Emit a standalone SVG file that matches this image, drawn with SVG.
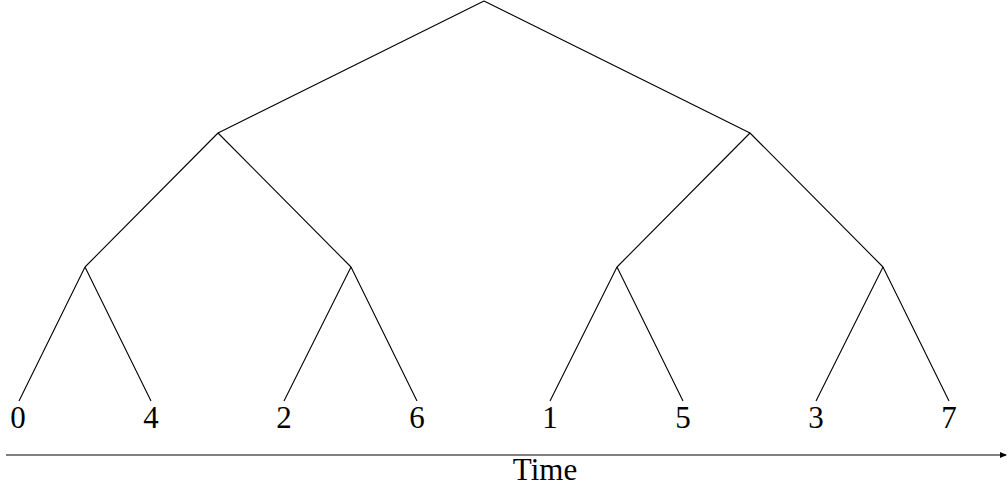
<svg xmlns="http://www.w3.org/2000/svg" width="1008" height="486" viewBox="0 0 1008 486">
<style>
.e{stroke:#000;stroke-width:1.1;fill:none}
.t{font-family:"Liberation Serif","DejaVu Serif",serif;font-size:31px;fill:#000;text-anchor:middle}
</style>
<defs>
<marker id="ah" markerWidth="7" markerHeight="7" refX="6" refY="3.5" orient="auto" markerUnits="userSpaceOnUse">
<path d="M0,0.5 L7,3.5 L0,6.5 Z" fill="#000"/>
</marker>
</defs>
<rect width="1008" height="486" fill="#fff"/>
<g id="connectors">
<path class="e" d="M484,1 L218,133 M484,1 L750,133"/>
<path class="e" d="M218,133 L85,267 M218,133 L351,267 M750,133 L617,267 M750,133 L883,267"/>
<path class="e" d="M85,267 L19,401 M85,267 L151,401 M351,267 L284,401 M351,267 L417,401 M617,267 L550,401 M617,267 L683,401 M883,267 L816,401 M883,267 L949,401"/>
<line id="axis" class="e" x1="6" y1="455" x2="1006" y2="455" marker-end="url(#ah)"/>
</g>
<g id="leaf0"><text class="t" x="18" y="428">0</text></g>
<g id="leaf4"><text class="t" x="151" y="428">4</text></g>
<g id="leaf2"><text class="t" x="284" y="428">2</text></g>
<g id="leaf6"><text class="t" x="417" y="428">6</text></g>
<g id="leaf1"><text class="t" x="550" y="428">1</text></g>
<g id="leaf5"><text class="t" x="683" y="428">5</text></g>
<g id="leaf3"><text class="t" x="816" y="428">3</text></g>
<g id="leaf7"><text class="t" x="949" y="428">7</text></g>
<g id="time"><text class="t" x="545" y="480">Time</text></g>
</svg>
